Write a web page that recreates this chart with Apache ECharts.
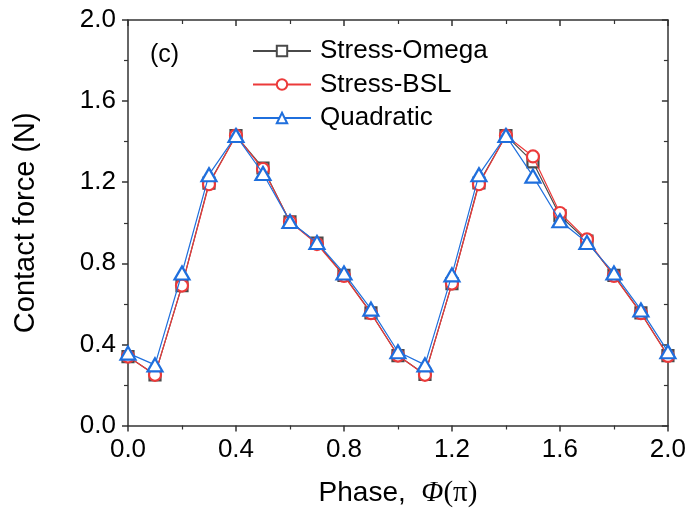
<!DOCTYPE html>
<html>
<head>
<meta charset="utf-8">
<script src="https://cdn.jsdelivr.net/npm/echarts@6/dist/echarts.min.js"></script>
<style>
html,body{margin:0;padding:0;background:#fff;}
#chart{width:689px;height:514px;}
</style>
</head>
<body>
<div id="chart"></div>
<script>
const phase = [0, 0.1, 0.2, 0.3, 0.4, 0.5, 0.6, 0.7, 0.8, 0.9, 1.0, 1.1, 1.2, 1.3, 1.4, 1.5, 1.6, 1.7, 1.8, 1.9, 2.0];
const stressOmega = [0.34, 0.25, 0.69, 1.195, 1.43, 1.27, 1.005, 0.90, 0.74, 0.555, 0.345, 0.252, 0.70, 1.196, 1.43, 1.30, 1.035, 0.91, 0.74, 0.555, 0.345];
const stressBSL = [0.34, 0.25, 0.69, 1.19, 1.43, 1.265, 1.005, 0.895, 0.738, 0.554, 0.345, 0.25, 0.70, 1.19, 1.43, 1.327, 1.048, 0.918, 0.738, 0.554, 0.343];
const quadratic = [0.357, 0.299, 0.752, 1.237, 1.43, 1.243, 1.006, 0.903, 0.752, 0.574, 0.364, 0.299, 0.743, 1.237, 1.43, 1.23, 1.01, 0.903, 0.752, 0.570, 0.364];
const seriesNames = ['Stress-Omega', 'Stress-BSL', 'Quadratic'];
const yTicks = [0, 0.4, 0.8, 1.2, 1.6, 2.0];

const FONT = 'Liberation Sans, Arial, sans-serif';
const AX = '#333';
const fmt = v => v.toFixed(1);

function pairs(ys) { return phase.map((x, i) => [x, ys[i]]); }

function mkSeries(name, ys, color, symbol, size, z) {
  return {
    name: name, type: 'line', data: pairs(ys),
    symbol: symbol, symbolSize: size, z: z,
    lineStyle: { color: color, width: 1.2 },
    itemStyle: { color: '#fff', borderColor: color, borderWidth: 2.2 },
    emphasis: { disabled: true },
    animation: false
  };
}

const chart = echarts.init(document.getElementById('chart'), null, { renderer: 'canvas' });
const baseAxis = {
  type: 'value', min: 0, max: 2, interval: 0.4,
  axisLine: { show: true, onZero: false, lineStyle: { color: AX, width: 1.5 } },
  splitLine: { show: false },
};
chart.setOption({
  animation: false,
  backgroundColor: '#fff',
  textStyle: { fontFamily: FONT },
  grid: { left: 128, right: 21, top: 20, bottom: 88.5 },
  legend: {
    data: seriesNames,
    orient: 'vertical', left: 252, top: 38, padding: 0,
    itemWidth: 58, itemHeight: 13, itemGap: 7.5,
    textStyle: { fontSize: 26, color: '#000', fontFamily: FONT, lineHeight: 25, padding: [0, 0, 0, 4] },
    selectedMode: false
  },
  graphic: [{
    type: 'text', left: 150, top: 43,
    style: { text: '(c)', fontSize: 25, fill: '#000', fontFamily: FONT }
  }],
  xAxis: [
    Object.assign({}, baseAxis, {
      position: 'bottom',
      axisTick: { show: true, inside: false, length: 6, lineStyle: { color: AX, width: 1.5 } },
      minorTick: { show: true, splitNumber: 2, length: 4, lineStyle: { color: AX, width: 1.2 } },
      axisLabel: { fontSize: 26, color: '#000', margin: 11, formatter: fmt, fontFamily: FONT },
      name: 'Phase,  {i|Φ}{s|(π)}', nameLocation: 'middle', nameGap: 53,
      nameTextStyle: {
        fontSize: 28, color: '#000', fontFamily: FONT,
        rich: {
          i: { fontSize: 29, fontStyle: 'italic', fontFamily: 'Liberation Serif, serif', color: '#000' },
          s: { fontSize: 29, fontFamily: 'Liberation Serif, serif', color: '#000' }
        }
      }
    }),
    Object.assign({}, baseAxis, {
      position: 'top',
      axisTick: { show: true, inside: true, length: 6, lineStyle: { color: AX, width: 1.5 } },
      minorTick: { show: true, splitNumber: 2, length: 4, lineStyle: { color: AX, width: 1.2 } },
      axisLabel: { show: false }
    })
  ],
  yAxis: [
    Object.assign({}, baseAxis, {
      position: 'left',
      axisTick: { show: true, inside: false, length: 6, lineStyle: { color: AX, width: 1.5 } },
      minorTick: { show: true, splitNumber: 2, length: 4, lineStyle: { color: AX, width: 1.2 } },
      axisLabel: { fontSize: 26, color: '#000', margin: 12, formatter: fmt, fontFamily: FONT,
        customValues: yTicks },
      name: 'Contact force (N)', nameLocation: 'middle', nameGap: 88,
      nameTextStyle: { fontSize: 29, color: '#000', fontFamily: FONT }
    }),
    Object.assign({}, baseAxis, {
      position: 'right',
      axisTick: { show: true, inside: true, length: 6, lineStyle: { color: AX, width: 1.5 } },
      minorTick: { show: true, splitNumber: 2, length: 4, lineStyle: { color: AX, width: 1.2 } },
      axisLabel: { show: false }
    })
  ],
  series: [
    mkSeries(seriesNames[0], stressOmega, '#4a4a4a', 'rect', 11, 2),
    mkSeries(seriesNames[1], stressBSL, '#ec3a3a', 'circle', 12, 3),
    mkSeries(seriesNames[2], quadratic, '#1f6fdd', 'triangle', [15, 13], 4)
  ]
});
</script>
</body>
</html>
